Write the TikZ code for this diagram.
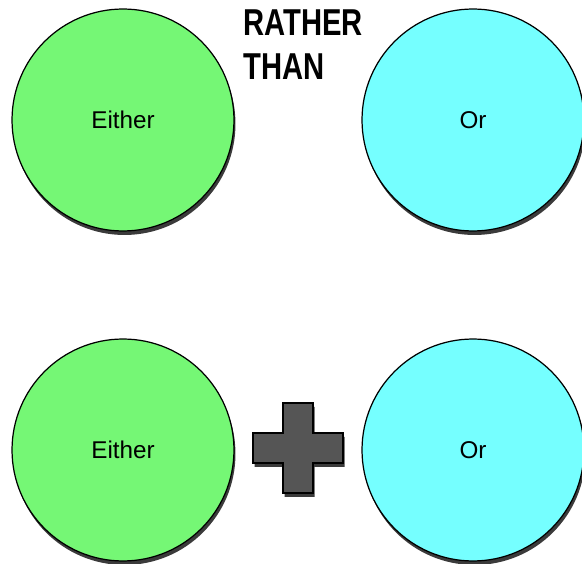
\documentclass[tikz,border=0pt]{standalone}
\usepackage{fontspec}
\setmainfont{Liberation Sans}
\newfontfamily\narrowfont[FakeStretch=0.78]{Liberation Sans}
\usepackage{tikz}
\usetikzlibrary{shadows}

\definecolor{eithergreen}{RGB}{117,247,117}
\definecolor{orcyan}{RGB}{117,255,255}
\definecolor{plusgray}{RGB}{85,85,85}

\tikzset{
  darkshadow/.style={drop shadow={shadow xshift=0.03cm, shadow yshift=-0.08cm, fill=black!85, opacity=0.9}},
  bubble/.style={circle, draw=black, line width=0.7pt, minimum size=4.44cm, inner sep=0pt,
    darkshadow, font=\fontsize{13.8}{16}\selectfont},
  plusbox/.style={draw=black, line width=0.7pt, fill=plusgray, darkshadow}
}

\begin{document}
\begin{tikzpicture}[x=0.02cm, y=-0.02cm]
  \useasboundingbox (0,0) rectangle (582,564);

  % Top row
  \node[bubble, fill=eithergreen] (either1) at (123,120) {Either};
  \node[bubble, fill=orcyan] (or1) at (473,120) {Or};
  \node[anchor=north west, inner sep=0pt, align=left,
        font=\narrowfont\bfseries\fontsize{21.3}{25.5}\selectfont] (rather) at (243,9) {RATHER\\THAN};

  % Bottom row
  \node[bubble, fill=eithergreen] (either2) at (123,450) {Either};
  \node[bubble, fill=orcyan] (or2) at (473,450) {Or};

  % Plus sign
  \coordinate (plus) at (298,448);
  \draw[plusbox] (plus) ++(-45,-15) -- ++(30,0) -- ++(0,-30) -- ++(30,0) -- ++(0,30)
    -- ++(30,0) -- ++(0,30) -- ++(-30,0) -- ++(0,30) -- ++(-30,0) -- ++(0,-30)
    -- ++(-30,0) -- cycle;
\end{tikzpicture}
\end{document}
